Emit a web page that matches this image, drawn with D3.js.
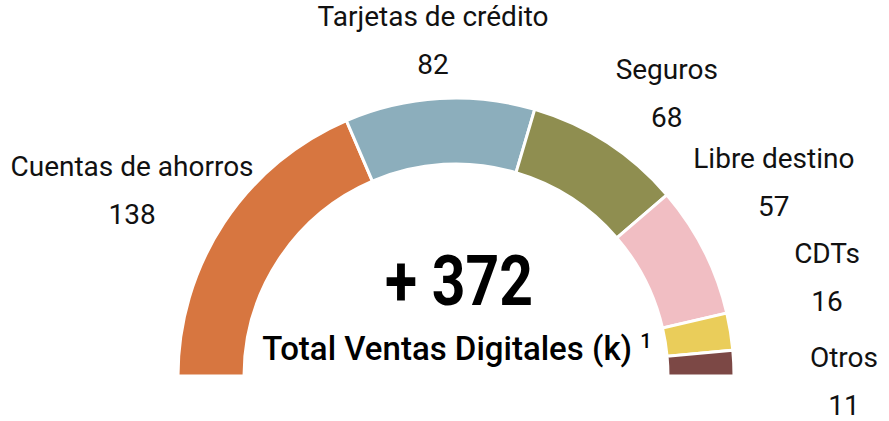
<!DOCTYPE html>
<html>
<head>
<meta charset="utf-8">
<script src="https://cdn.jsdelivr.net/npm/d3@7"></script>
<style>
  html, body { margin: 0; padding: 0; background: #fff; }
  svg { display: block; font-family: Roboto, "Noto Sans", sans-serif; }
</style>
</head>
<body>
<div id="chart"></div>
<script>
// data
const categories = ['Cuentas de ahorros', 'Tarjetas de crédito', 'Seguros', 'Libre destino', 'CDTs', 'Otros'];
const values = [138, 82, 68, 57, 16, 11];
const colours = ['#d77640', '#8caebc', '#8f8e50', '#f1bec3', '#eacd5a', '#7c4845'];
const totalTitle = 'Total Ventas Digitales (k)';
const footnote = '1';

const width = 889, height = 421;
const cx = 456, cy = 376;
const outerR = 278, innerR = 212;

const svg = d3.select('#chart').append('svg')
    .attr('width', width)
    .attr('height', height);

// half donut, left to right
const pie = d3.pie()
    .sort(null)
    .startAngle(-Math.PI / 2)
    .endAngle(Math.PI / 2);

const arc = d3.arc()
    .innerRadius(innerR)
    .outerRadius(outerR);

const slices = pie(values);

const g = svg.append('g').attr('transform', `translate(${cx},${cy})`);

g.selectAll('path.slice')
    .data(slices)
    .join('path')
    .classed('slice', true)
    .attr('d', arc)
    .style('fill', (d, i) => colours[i])
    .style('stroke', '#fff')
    .style('stroke-width', 3);

// label angles: slice middles, spread apart on the right where slices are thin
const minSep = 18 * Math.PI / 180;
const maxAngle = 91 * Math.PI / 180;
const angles = slices.map(d => (d.startAngle + d.endAngle) / 2);
for (let i = 1; i < angles.length; i++) {
    angles[i] = Math.max(angles[i], angles[i - 1] + minSep);
}
angles[angles.length - 1] = Math.min(angles[angles.length - 1], maxAngle);
for (let i = angles.length - 2; i >= 0; i--) {
    angles[i] = Math.min(angles[i], angles[i + 1] - minSep);
}

// labels sit on an ellipse round the donut
const rx = 388, ry = 336;
const labels = g.selectAll('g.label')
    .data(slices)
    .join('g')
    .classed('label', true)
    .attr('transform', (d, i) => `translate(${rx * Math.sin(angles[i])},${-ry * Math.cos(angles[i])})`);

labels.append('text')
    .attr('y', -15)
    .attr('text-anchor', 'middle')
    .style('font-size', '28px')
    .style('fill', '#111')
    .text((d, i) => categories[i]);

labels.append('text')
    .attr('y', 33)
    .attr('text-anchor', 'middle')
    .style('font-size', '28px')
    .style('fill', '#111')
    .text(d => d.data);

// centre totals
g.append('text')
    .attr('x', 3)
    .attr('y', -71)
    .attr('text-anchor', 'middle')
    .attr('textLength', 148)
    .attr('lengthAdjust', 'spacingAndGlyphs')
    .style('font-size', '70px')
    .style('font-weight', 700)
    .style('fill', '#000')
    .text(`+ ${d3.sum(values)}`);

const title = g.append('text')
    .attr('x', 1)
    .attr('y', -16)
    .attr('text-anchor', 'middle')
    .style('font-size', '33px')
    .style('font-weight', 500)
    .style('fill', '#000');
title.append('tspan').text(totalTitle + ' ');
title.append('tspan')
    .attr('dy', -12)
    .style('font-size', '20px')
    .text(footnote);
</script>
</body>
</html>
